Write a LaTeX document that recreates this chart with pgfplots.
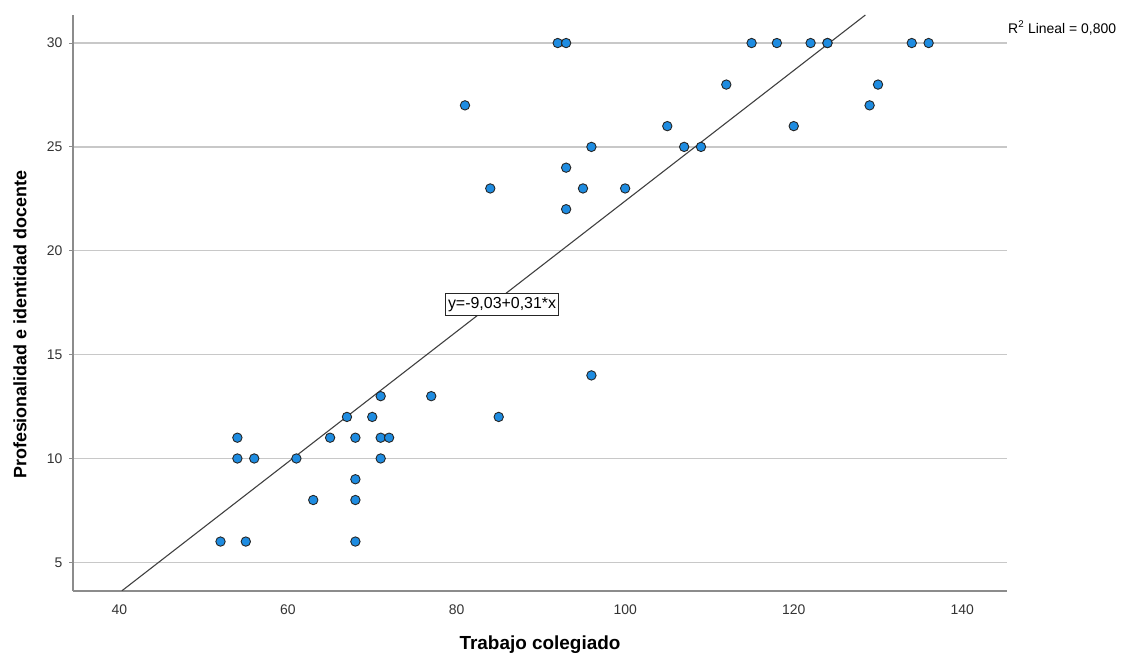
\documentclass[border=0pt]{standalone}
\usepackage{fontspec}
\setmainfont{Liberation Sans}
\usepackage{pgfplots}
\usepackage{pgfplotstable}
\pgfplotsset{compat=1.18}
\definecolor{ptblue}{RGB}{30,140,225}
\definecolor{gridgray}{RGB}{200,200,200}
\definecolor{axisgray}{RGB}{140,140,140}

\pgfplotstableread{
x y
92 30
93 30
115 30
118 30
122 30
124 30
124 30
134 30
136 30
112 28
130 28
81 27
129 27
105 26
120 26
96 25
107 25
109 25
93 24
84 23
95 23
100 23
93 22
96 14
71 13
77 13
67 12
70 12
85 12
54 11
65 11
68 11
71 11
72 11
54 10
56 10
61 10
71 10
68 9
63 8
68 8
52 6
55 6
68 6
}\datatable

\begin{document}
\begin{tikzpicture}
\begin{axis}[
  scale only axis,
  width=934bp, height=576bp,
  xmin=34.5, xmax=145.3,
  ymin=3.62, ymax=31.35,
  axis x line*=bottom,
  axis y line*=left,
  x axis line style={draw=axisgray, line width=1.5bp},
  y axis line style={draw=axisgray, line width=1.2bp},
  xtick={40,60,...,140},
  ytick={5,10,...,30},
  xtick style={draw=none},
  ytick style={draw=axisgray, line width=1bp},
  tick align=outside,
  major tick length=4bp,
  ymajorgrids,
  grid style={draw=gridgray, line width=1.3bp},
  tick label style={font=\fontsize{14}{16}\selectfont, text=black!80},
  /pgf/number format/assume math mode=true,
  xticklabel style={yshift=-6bp},
  yticklabel style={xshift=-3bp},
  xlabel={Trabajo colegiado},
  ylabel={Profesionalidad e identidad docente},
  xlabel style={font=\fontsize{19}{22}\selectfont\bfseries, at={(axis description cs:0.5,-0.0938)}, anchor=center},
  ylabel style={font=\fontsize{18}{21}\selectfont\bfseries, at={(axis description cs:-0.0567,0.462)}, anchor=center},
]
\addplot[only marks, mark=*, mark size=4.7bp,
  mark options={fill=ptblue, draw=black!85, line width=0.9bp}] table {\datatable};
\addplot[draw=black!75, line width=1.1bp, no marks] coordinates {(40.3,3.63) (128.5,31.35)};
\node[draw=black!85, fill=white, line width=0.8bp, inner xsep=2.5bp, inner ysep=4bp,
  font=\fontsize{16}{18}\selectfont] at (axis cs:85.4,17.43) {y=-9,03+0,31*x};
\end{axis}
\node[anchor=west, inner sep=1bp, font=\fontsize{14}{16}\selectfont]
  at ([yshift=-13bp]current axis.north east) {R\textsuperscript{2} Lineal = 0,800};
\path ([xshift=-73bp,yshift=-68bp]current axis.south west) rectangle ([xshift=114bp,yshift=15bp]current axis.north east);
\end{tikzpicture}
\end{document}
